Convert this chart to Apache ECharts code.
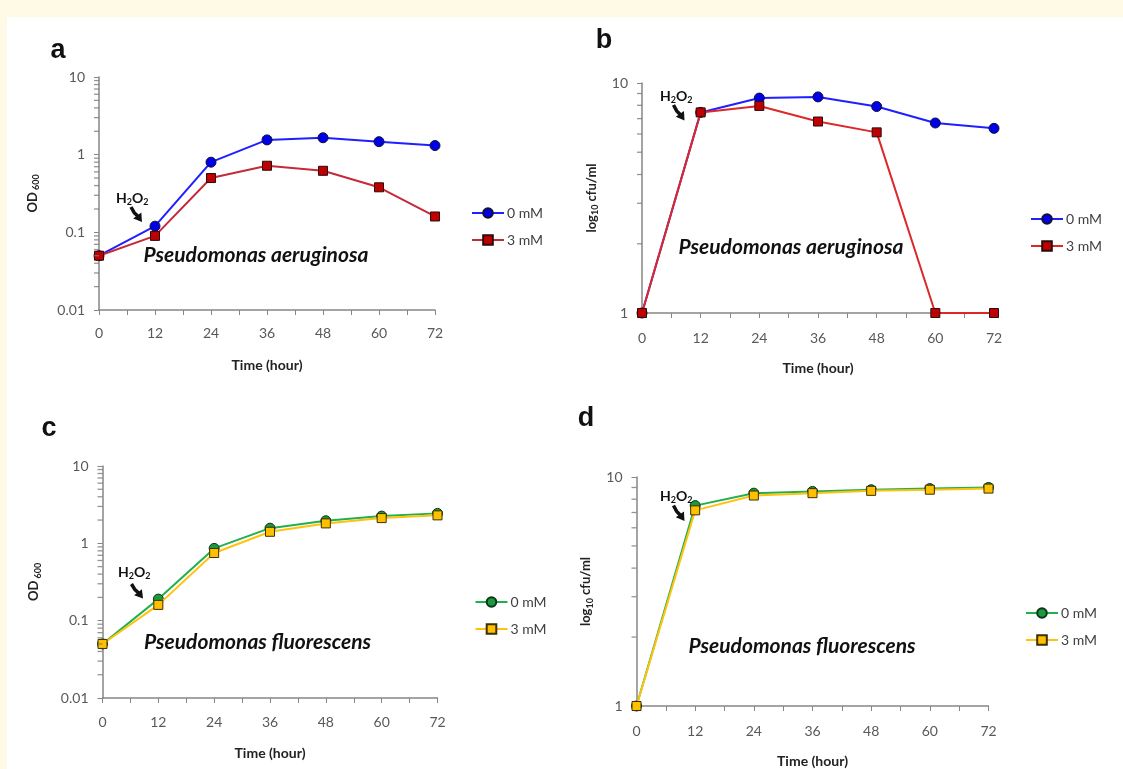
<!DOCTYPE html>
<html><head><meta charset="utf-8">
<script src="https://cdn.jsdelivr.net/npm/echarts@6/dist/echarts.min.js"></script>
<style>html,body{margin:0;padding:0;background:#fff;}#c{width:1123px;height:769px;}</style>
</head><body><div id="c"></div>
<script>
// ---- data ----
const hours = [0, 12, 24, 36, 48, 60, 72];
const seriesNames = ['0 mM', '3 mM'];
// Pseudomonas aeruginosa, OD600
const aerugOD_0mM = [0.05, 0.12, 0.80, 1.55, 1.65, 1.47, 1.31];
const aerugOD_3mM = [0.05, 0.09, 0.50, 0.72, 0.62, 0.38, 0.16];
// Pseudomonas aeruginosa, log10 cfu/ml
const aerugCfu_0mM = [1, 7.45, 8.6, 8.7, 7.9, 6.7, 6.35];
const aerugCfu_3mM = [1, 7.45, 7.95, 6.8, 6.1, 1, 1];
// Pseudomonas fluorescens, OD600
const fluorOD_0mM = [0.05, 0.19, 0.86, 1.57, 1.96, 2.25, 2.44];
const fluorOD_3mM = [0.05, 0.16, 0.75, 1.41, 1.81, 2.12, 2.30];
// Pseudomonas fluorescens, log10 cfu/ml
const fluorCfu_0mM = [1, 7.5, 8.5, 8.65, 8.8, 8.9, 9.0];
const fluorCfu_3mM = [1, 7.15, 8.3, 8.5, 8.7, 8.8, 8.9];
// log-axis minor tick positions
const minorTicksOD = [0.02,0.03,0.04,0.05,0.06,0.07,0.08,0.09,0.2,0.3,0.4,0.5,0.6,0.7,0.8,0.9,2,3,4,5,6,7,8,9];
const minorTicksCfu = [2,3,4,5,6,7,8,9];

// ---- layout / style ----
const FONT = 'Lato, "Open Sans", sans-serif';
const GRAY = '#868686';
const panels = [
  {label:'a', grid:{left:99, top:77, width:336, height:233}, ymin:0.01, ymax:10, yname:'{b|OD}{s| 600}', nameGap:58,
   s0:aerugOD_0mM, s3:aerugOD_3mM, minor:minorTicksOD, scheme:'br', redLine:'#c42a3a',
   legend:{left:466, top:201}, species:'Pseudomonas aeruginosa', sp:[143.5,255], lab:[58,51], h2o2:[116,198], arrow:[131,207,142,222], xm:16},
  {label:'b', grid:{left:642, top:83, width:352, height:230}, ymin:1, ymax:10, yname:'{b|log}{s|10}{b| cfu/ml}', nameGap:42,
   s0:aerugCfu_0mM, s3:aerugCfu_3mM, minor:minorTicksCfu, scheme:'br', redLine:'#dc2828',
   legend:{left:1025, top:207}, species:'Pseudomonas aeruginosa', sp:[678.5,247], lab:[604,41], h2o2:[660,96.5], arrow:[673.5,105,684.5,120.5], xm:18},
  {label:'c', grid:{left:102.5, top:466, width:335, height:232}, ymin:0.01, ymax:10, yname:'{b|OD}{s| 600}', nameGap:60,
   s0:fluorOD_0mM, s3:fluorOD_3mM, minor:minorTicksOD, scheme:'gy',
   legend:{left:469.5, top:590}, species:'Pseudomonas fluorescens', sp:[144,642.5], lab:[49,429], h2o2:[118,572.5], arrow:[131.5,584,143,598.5], xm:17},
  {label:'d', grid:{left:636.5, top:477, width:352, height:230}, ymin:1, ymax:10, yname:'{b|log}{s|10}{b| cfu/ml}', nameGap:42,
   s0:fluorCfu_0mM, s3:fluorCfu_3mM, minor:minorTicksCfu, scheme:'gy',
   legend:{left:1020, top:601}, species:'Pseudomonas fluorescens', sp:[688.5,646], lab:[586,419], h2o2:[660,496], arrow:[673.5,505.5,684.5,521], xm:18}
];

const richName = {
  b:{fontSize:13, fontWeight:'bold', color:'#222', fontFamily:FONT, lineHeight:17, verticalAlign:'middle'},
  s:{fontSize:9, fontWeight:'bold', color:'#222', fontFamily:FONT, verticalAlign:'bottom', lineHeight:10}
};

const grids = [], xAxes = [], yAxes = [], series = [], legends = [], graphics = [];

graphics.push({type:'rect', shape:{x:0,y:0,width:1123,height:17}, style:{fill:'#fffae6'}, z:0, silent:true});
graphics.push({type:'rect', shape:{x:0,y:0,width:7,height:769}, style:{fill:'#fffae6'}, z:0, silent:true});

function pairs(arr){ return hours.map((h,i)=>[h, arr[i]]); }

panels.forEach((p, i) => {
  grids.push(Object.assign({containLabel:false}, p.grid));
  xAxes.push({
    type:'value', gridIndex:i, min:0, max:72, interval:12,
    name:'Time (hour)', nameLocation:'middle', nameGap:48,
    nameTextStyle:{fontSize:14, fontWeight:'bold', color:'#222', fontFamily:FONT},
    axisLine:{onZero:false, lineStyle:{color:GRAY, width:1.5}},
    axisTick:{show:true, length:5, lineStyle:{color:GRAY}},
    minorTick:{show:true, splitNumber:2, length:5, lineStyle:{color:GRAY}},
    splitLine:{show:false}, minorSplitLine:{show:false},
    axisLabel:{margin:p.xm, fontSize:14, color:'#595959', fontFamily:FONT}
  });
  yAxes.push({
    type:'log', logBase:10, gridIndex:i, min:p.ymin, max:p.ymax,
    name:p.yname, nameLocation:'middle', nameGap:p.nameGap, nameRotate:90,
    nameTextStyle:{rich:richName},
    axisLine:{show:true, onZero:false, lineStyle:{color:GRAY, width:1.5}},
    axisTick:{show:true, length:5, lineStyle:{color:GRAY}},
    splitLine:{show:false},
    axisLabel:{margin:14, fontSize:14, color:'#595959', fontFamily:FONT,
      formatter:v => String(+(+v).toPrecision(3))}
  });
  const c0 = p.scheme === 'br'
    ? {line:'#1f1fff', fill:'#0000e8', border:'#111133', sym:'circle'}
    : {line:'#22b04e', fill:'#1a9a3e', border:'#0d3318', sym:'circle'};
  const c3 = p.scheme === 'br'
    ? {line:p.redLine, fill:'#c00000', border:'#2a0a0a', sym:'rect'}
    : {line:'#ffc20e', fill:'#ffc000', border:'#3d3000', sym:'rect'};
  // minor ticks of the log axis
  series.push({
    type:'scatter', name:'minor'+i, xAxisIndex:i, yAxisIndex:i, data:p.minor.map(v=>[0,v]),
    symbol:'rect', symbolSize:[5,1.3], symbolOffset:[-2.5,0], clip:false, silent:true,
    itemStyle:{color:'#7a7a7a'}, z:6, animation:false
  });
  [[p.s0, c0, seriesNames[0]], [p.s3, c3, seriesNames[1]]].forEach(([arr, c, nm], k) => {
    series.push({
      type:'line', name:p.label+':'+nm, xAxisIndex:i, yAxisIndex:i, data:pairs(arr),
      symbol:c.sym, symbolSize:c.sym==='circle'?10:9, showSymbol:true, clip:false,
      lineStyle:{color:c.line, width:2},
      itemStyle:{color:c.fill, borderColor:c.border, borderWidth:1},
      emphasis:{disabled:true}, z:3+k, animation:false
    });
  });
  legends.push({
    data:[p.label+':'+seriesNames[0], p.label+':'+seriesNames[1]],
    orient:'vertical', left:p.legend.left, top:p.legend.top,
    itemWidth:32, itemHeight:12, itemGap:13, selectedMode:false,
    formatter:n => n.split(':')[1],
    textStyle:{fontSize:14, color:'#404040', fontFamily:FONT, padding:[0,0,0,-2]}
  });
  // panel letter
  graphics.push({type:'text', x:p.lab[0], y:p.lab[1], style:{text:p.label, font:'bold 27px "Liberation Sans", Arial, sans-serif', fill:'#111', align:'center', verticalAlign:'middle'}, z:10});
  // species name
  graphics.push({type:'text', x:p.sp[0], y:p.sp[1], style:{text:p.species, font:'italic bold 21px '+FONT, fill:'#111', align:'left', verticalAlign:'middle'}, z:10});
  // H2O2 annotation
  graphics.push({type:'text', x:p.h2o2[0], y:p.h2o2[1], style:{
    text:'{n|H}{s|2}{n|O}{s|2}', align:'left', verticalAlign:'middle',
    rich:{n:{fontSize:14, fontWeight:'bold', fontFamily:FONT, fill:'#111', lineHeight:17, verticalAlign:'middle'},
          s:{fontSize:9, fontWeight:'bold', fontFamily:FONT, fill:'#111', lineHeight:10, verticalAlign:'bottom'}}}, z:10});
  // arrow
  const [x1,y1,x2,y2] = p.arrow;
  const dx = x2-x1, dy = y2-y1, L = Math.hypot(dx,dy), ux = dx/L, uy = dy/L, px = -uy, py = ux;
  const hl = 8, hw = 5;
  const bx = x2-ux*hl, by = y2-uy*hl;
  graphics.push({type:'polyline', shape:{points:[[x1,y1],[x1+dx*0.35+px*0.8, y1+dy*0.35+py*0.8],[bx+ux,by+uy]]}, style:{stroke:'#111', lineWidth:3.5, fill:null}, z:10});
  graphics.push({type:'polygon', shape:{points:[[x2,y2],[bx+px*hw,by+py*hw],[bx-px*hw,by-py*hw]]}, style:{fill:'#111'}, z:10});
});

const chart = echarts.init(document.getElementById('c'), null, {renderer:'canvas'});
chart.setOption({
  backgroundColor:'#ffffff', animation:false,
  grid:grids, xAxis:xAxes, yAxis:yAxes, series:series, legend:legends, graphic:graphics
});
</script></body></html>
